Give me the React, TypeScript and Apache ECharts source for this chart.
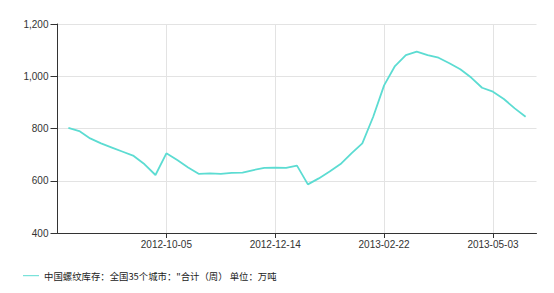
import React, { useEffect, useRef } from "react";
import * as echarts from "echarts";

const categories = [
  "2012-07-27", "2012-08-03", "2012-08-10", "2012-08-17", "2012-08-24", "2012-08-31",
  "2012-09-07", "2012-09-14", "2012-09-21", "2012-09-28", "2012-10-05", "2012-10-12",
  "2012-10-19", "2012-10-26", "2012-11-02", "2012-11-09", "2012-11-16", "2012-11-23",
  "2012-11-30", "2012-12-07", "2012-12-14", "2012-12-21", "2012-12-28", "2013-01-04",
  "2013-01-11", "2013-01-18", "2013-01-25", "2013-02-01", "2013-02-08", "2013-02-15",
  "2013-02-22", "2013-03-01", "2013-03-08", "2013-03-15", "2013-03-22", "2013-03-29",
  "2013-04-05", "2013-04-12", "2013-04-19", "2013-04-26", "2013-05-03", "2013-05-10",
  "2013-05-17", "2013-05-24", "2013-05-31",
];

const inventory: (number | null)[] = [
  null, 802, 790, 762, 743, 727, 711, 695, 663, 622, 705, 679,
  651, 626, 628, 626, 630, 631, 641, 649, 650, 649, 658, 586,
  609, 635, 664, 705, 743, 845, 965, 1039, 1081, 1094, 1081, 1071,
  1050, 1027, 995, 956, 941, 913, 877, 845, null,
];

const labelledDates = ["2012-10-05", "2012-12-14", "2013-02-22", "2013-05-03"];
const seriesName = "中国螺纹库存：全国35个城市：\"合计（周） 单位：万吨";

export default function App() {
  const ref = useRef<HTMLDivElement>(null);
  useEffect(() => {
    if (!ref.current) return;
    const chart = echarts.init(ref.current, null, { renderer: "svg" });
    const showIdx = (i: number) => labelledDates.includes(categories[i]);
    chart.setOption({
      animation: false,
      grid: { left: 57.5, right: 17.5, top: 24, bottom: 60, containLabel: false },
      legend: {
        left: 18,
        top: 266,
        itemWidth: 16,
        itemHeight: 10,
        itemGap: 10,
        textStyle: {
          fontSize: 9.4,
          color: "#222",
          fontFamily: "'Noto Sans CJK SC', sans-serif",
        },
        data: [{ name: seriesName, icon: "path://M0,4.5L16,4.5L16,5.5L0,5.5Z" }],
      },
      xAxis: {
        type: "category",
        data: categories,
        boundaryGap: false,
        axisLine: { lineStyle: { color: "#333", width: 1 } },
        axisTick: {
          length: 5,
          interval: (i: number) => showIdx(i),
          lineStyle: { color: "#333" },
        },
        axisLabel: {
          interval: (i: number) => showIdx(i),
          fontSize: 10,
          color: "#333",
          fontFamily: "'Liberation Sans', Arial, sans-serif",
          margin: 6,
        },
        splitLine: {
          show: true,
          interval: (i: number) => showIdx(i),
          lineStyle: { color: "#e3e3e3", width: 1 },
        },
      },
      yAxis: {
        type: "value",
        min: 400,
        max: 1200,
        interval: 200,
        axisLine: { show: true, lineStyle: { color: "#333", width: 1 } },
        axisTick: { show: true, length: 7, lineStyle: { color: "#333" } },
        axisLabel: {
          fontSize: 10,
          color: "#333",
          margin: 9,
          fontFamily: "'Liberation Sans', Arial, sans-serif",
          formatter: (v: number) => v.toLocaleString("en-US"),
        },
        splitLine: { show: true, lineStyle: { color: "#e3e3e3", width: 1 } },
      },
      series: [
        {
          name: seriesName,
          type: "line",
          data: inventory,
          symbol: "none",
          lineStyle: { color: "#5cdcd2", width: 1.8 },
          itemStyle: { color: "#5cdcd2" },
        },
      ],
    });
    return () => chart.dispose();
  }, []);
  return (
    <div
      ref={ref}
      style={{ position: "fixed", left: 0, top: 0, width: 554, height: 293, background: "#fff" }}
    />
  );
}
